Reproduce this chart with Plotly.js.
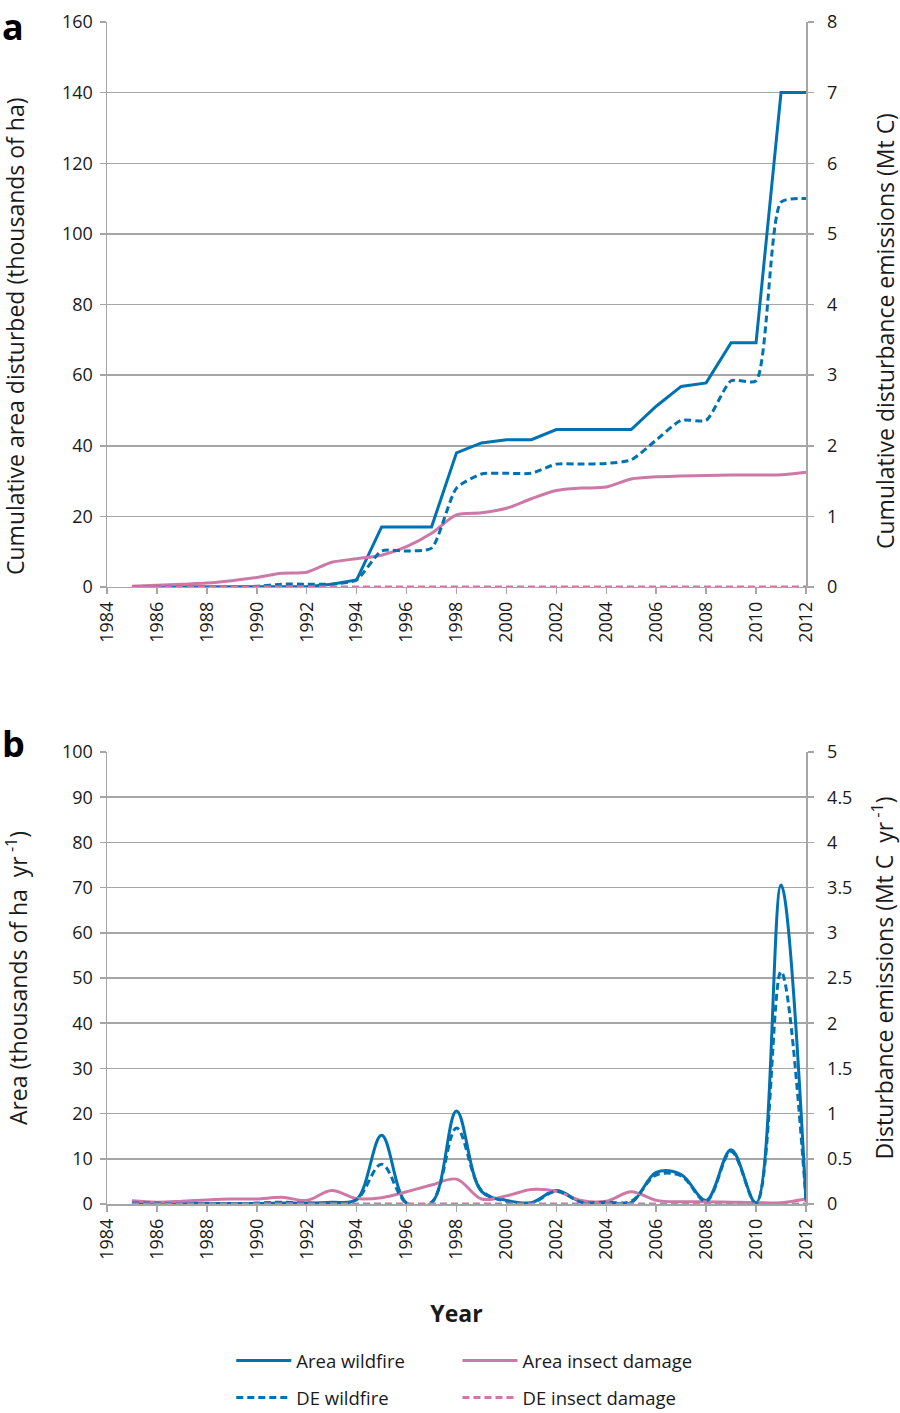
<!DOCTYPE html>
<html>
<head>
<meta charset="utf-8">
<script src="https://cdn.plot.ly/plotly-3.0.1.min.js"></script>
<style>html,body{margin:0;padding:0;background:#fff;}#chart{width:900px;height:1413px;}</style>
</head>
<body>
<div id="chart"></div>
<script>
// ---- Data ----
const years = [1985,1986,1987,1988,1989,1990,1991,1992,1993,1994,1995,1996,1997,1998,1999,2000,2001,2002,2003,2004,2005,2006,2007,2008,2009,2010,2011,2012];

// Panel a: cumulative
const cumAreaWildfire = [0,0,0,0,0,0,0,0.1,0.8,2,17,17,17,38,40.8,41.7,41.7,44.6,44.6,44.6,44.6,51.2,56.8,57.8,69.2,69.2,140,140];
const cumAreaInsect   = [0.2,0.5,0.8,1.1,1.8,2.7,3.9,4.2,7.0,8.0,9.0,11.4,15.2,20.4,21.0,22.3,25.0,27.3,28.0,28.3,30.6,31.2,31.4,31.6,31.7,31.7,31.8,32.5];
const cumDEWildfire   = [0,0,0,0,0,0.01,0.04,0.04,0.04,0.1,0.51,0.51,0.55,1.4,1.6,1.61,1.61,1.74,1.74,1.75,1.8,2.08,2.36,2.36,2.92,2.92,5.45,5.5];
const cumDEInsect     = [0,0,0,0,0,0,0,0,0,0,0,0,0,0,0,0,0,0,0,0,0,0,0,0,0,0,0,0];

// Panel b: annual
const annAreaWildfire = [0.2,0.2,0.1,0.1,0.1,0.1,0.2,0.2,0.4,1.0,15.2,0.2,0.2,20.6,2.8,0.8,0.3,3.0,0.5,0.4,0.3,7.0,6.5,0.8,12.0,0.2,70.6,0.5];
const annAreaInsect   = [0.7,0.4,0.6,0.9,1.1,1.1,1.5,0.8,3.0,1.2,1.4,2.7,4.2,5.5,1.1,1.8,3.2,2.8,0.8,0.6,2.7,0.8,0.5,0.5,0.4,0.3,0.3,1.1];
const annDEWildfire   = [0.01,0.01,0,0,0,0.01,0.02,0.01,0.01,0.05,0.44,0.01,0.02,0.84,0.15,0.03,0.01,0.14,0.02,0.02,0.03,0.32,0.31,0.03,0.58,0.01,2.57,0.04];
const annDEInsect     = [0,0,0,0,0,0,0,0,0,0,0,0,0,0,0,0,0,0,0,0,0,0,0,0,0,0,0,0];

const seriesNames = ["Area wildfire","Area insect damage","DE wildfire","DE insect damage"];
const blue = "#0072B2", pink = "#CC79A7";
const dashPat = '7px,4px';

const traces = [
  // panel a
  {x:years, y:cumAreaWildfire, xaxis:'x', yaxis:'y', mode:'lines', line:{color:blue,width:3}, showlegend:false, name:seriesNames[0]},
  {x:years, y:cumAreaInsect, xaxis:'x', yaxis:'y', mode:'lines', line:{color:pink,width:3,shape:'spline',smoothing:0.8}, showlegend:false, name:seriesNames[1]},
  {x:years, y:cumDEWildfire, xaxis:'x', yaxis:'y2', mode:'lines', line:{color:blue,width:3,dash:dashPat,shape:'spline',smoothing:0.6}, showlegend:false, name:seriesNames[2]},
  {x:years, y:cumDEInsect, xaxis:'x', yaxis:'y2', mode:'lines', line:{color:pink,width:3,dash:dashPat}, showlegend:false, name:seriesNames[3]},
  // panel b
  {x:years, y:annAreaWildfire, xaxis:'x2', yaxis:'y3', mode:'lines', line:{color:blue,width:3,shape:'spline',smoothing:1}, name:seriesNames[0], legend:'legend'},
  {x:years, y:annAreaInsect, xaxis:'x2', yaxis:'y3', mode:'lines', line:{color:pink,width:3,shape:'spline',smoothing:1}, name:seriesNames[1], legend:'legend2'},
  {x:years, y:annDEWildfire, xaxis:'x2', yaxis:'y4', mode:'lines', line:{color:blue,width:3,dash:dashPat,shape:'spline',smoothing:1}, name:seriesNames[2], legend:'legend3'},
  {x:years, y:annDEInsect, xaxis:'x2', yaxis:'y4', mode:'lines', line:{color:pink,width:3,dash:dashPat,shape:'spline',smoothing:1}, name:seriesNames[3], legend:'legend4'}
];

const gridC = '#a6a6a6', axC = '#a6a6a6', txt = '#1a1a1a';
const xBase = {range:[1984,2012], tick0:1984, dtick:2, tickangle:-90, ticks:'outside', ticklen:6, tickwidth:1.5, tickcolor:axC,
  showgrid:false, showline:true, linecolor:axC, linewidth:1.5, zeroline:false, tickfont:{size:18,color:txt}};
const yBase = {ticks:'outside', ticklen:6, tickwidth:1.5, tickcolor:axC, showline:true, linecolor:axC, linewidth:1.5,
  showgrid:true, gridcolor:gridC, gridwidth:1.5, zeroline:false, tickfont:{size:18,color:txt}};

const legendBase = {orientation:'h', xref:'container', yref:'container', xanchor:'left', yanchor:'middle',
  itemwidth:55, font:{size:18.5,color:txt}, bgcolor:'rgba(0,0,0,0)'};
const row1 = 1-1361/1413, row2 = 1-1398/1413, col1 = 0.257, col2 = 0.5083;

const layout = {
  width:900, height:1413,
  margin:{l:107, r:94, t:22, b:209},
  paper_bgcolor:'#fff', plot_bgcolor:'#fff',
  font:{family:'"Open Sans", "Noto Sans", sans-serif', color:txt, size:18},
  showlegend:true,
  xaxis:Object.assign({}, xBase, {anchor:'y', domain:[0,1]}),
  yaxis:Object.assign({}, yBase, {domain:[0.522,1], range:[0,160], dtick:20, ticklabelstandoff:3}),
  yaxis2:Object.assign({}, yBase, {overlaying:'y', side:'right', anchor:'x', range:[0,8], dtick:1, showgrid:false, ticklabelstandoff:10}),
  xaxis2:Object.assign({}, xBase, {anchor:'y3', domain:[0,1],
    title:{text:'<b>Year</b>', font:{size:23}, standoff:47}}),
  yaxis3:Object.assign({}, yBase, {domain:[0,0.3824], range:[0,100], dtick:10, ticklabelstandoff:3,
    title:{text:'Area (thousands of ha  yr<sup> -1</sup>)', font:{size:23}, standoff:33}}),
  yaxis4:Object.assign({}, yBase, {overlaying:'y3', side:'right', anchor:'x2', range:[0,5], dtick:0.5, showgrid:false, ticklabelstandoff:10,
    title:{text:'Disturbance emissions (Mt C  yr<sup> -1</sup>)', font:{size:23}, standoff:28}}),
  legend:Object.assign({}, legendBase, {x:col1, y:row1}),
  legend2:Object.assign({}, legendBase, {x:col2, y:row1}),
  legend3:Object.assign({}, legendBase, {x:col1, y:row2}),
  legend4:Object.assign({}, legendBase, {x:col2, y:row2}),
  annotations:[
    {text:'<b>a</b>', xref:'paper', yref:'paper', x:0, y:1, xshift:-107, yshift:22, xanchor:'left', yanchor:'top', showarrow:false, font:{size:36,color:'#000'}},
    {text:'<b>b</b>', xref:'paper', yref:'paper', x:0, y:0.3824, xshift:-107, yshift:35, xanchor:'left', yanchor:'top', showarrow:false, font:{size:36,color:'#000'}},
    {text:'Cumulative area disturbed (thousands of ha)', xref:'paper', yref:'paper', x:(15-107)/699, y:(1204-336)/1182,
      xanchor:'center', yanchor:'middle', textangle:-90, showarrow:false, font:{size:23,color:txt}},
    {text:'Cumulative disturbance emissions (Mt C)', xref:'paper', yref:'paper', x:(885-107)/699, y:(1204-331)/1182,
      xanchor:'center', yanchor:'middle', textangle:-90, showarrow:false, font:{size:23,color:txt}}
  ]
};

Plotly.newPlot('chart', traces, layout, {displayModeBar:false, staticPlot:true});
</script>
</body>
</html>
